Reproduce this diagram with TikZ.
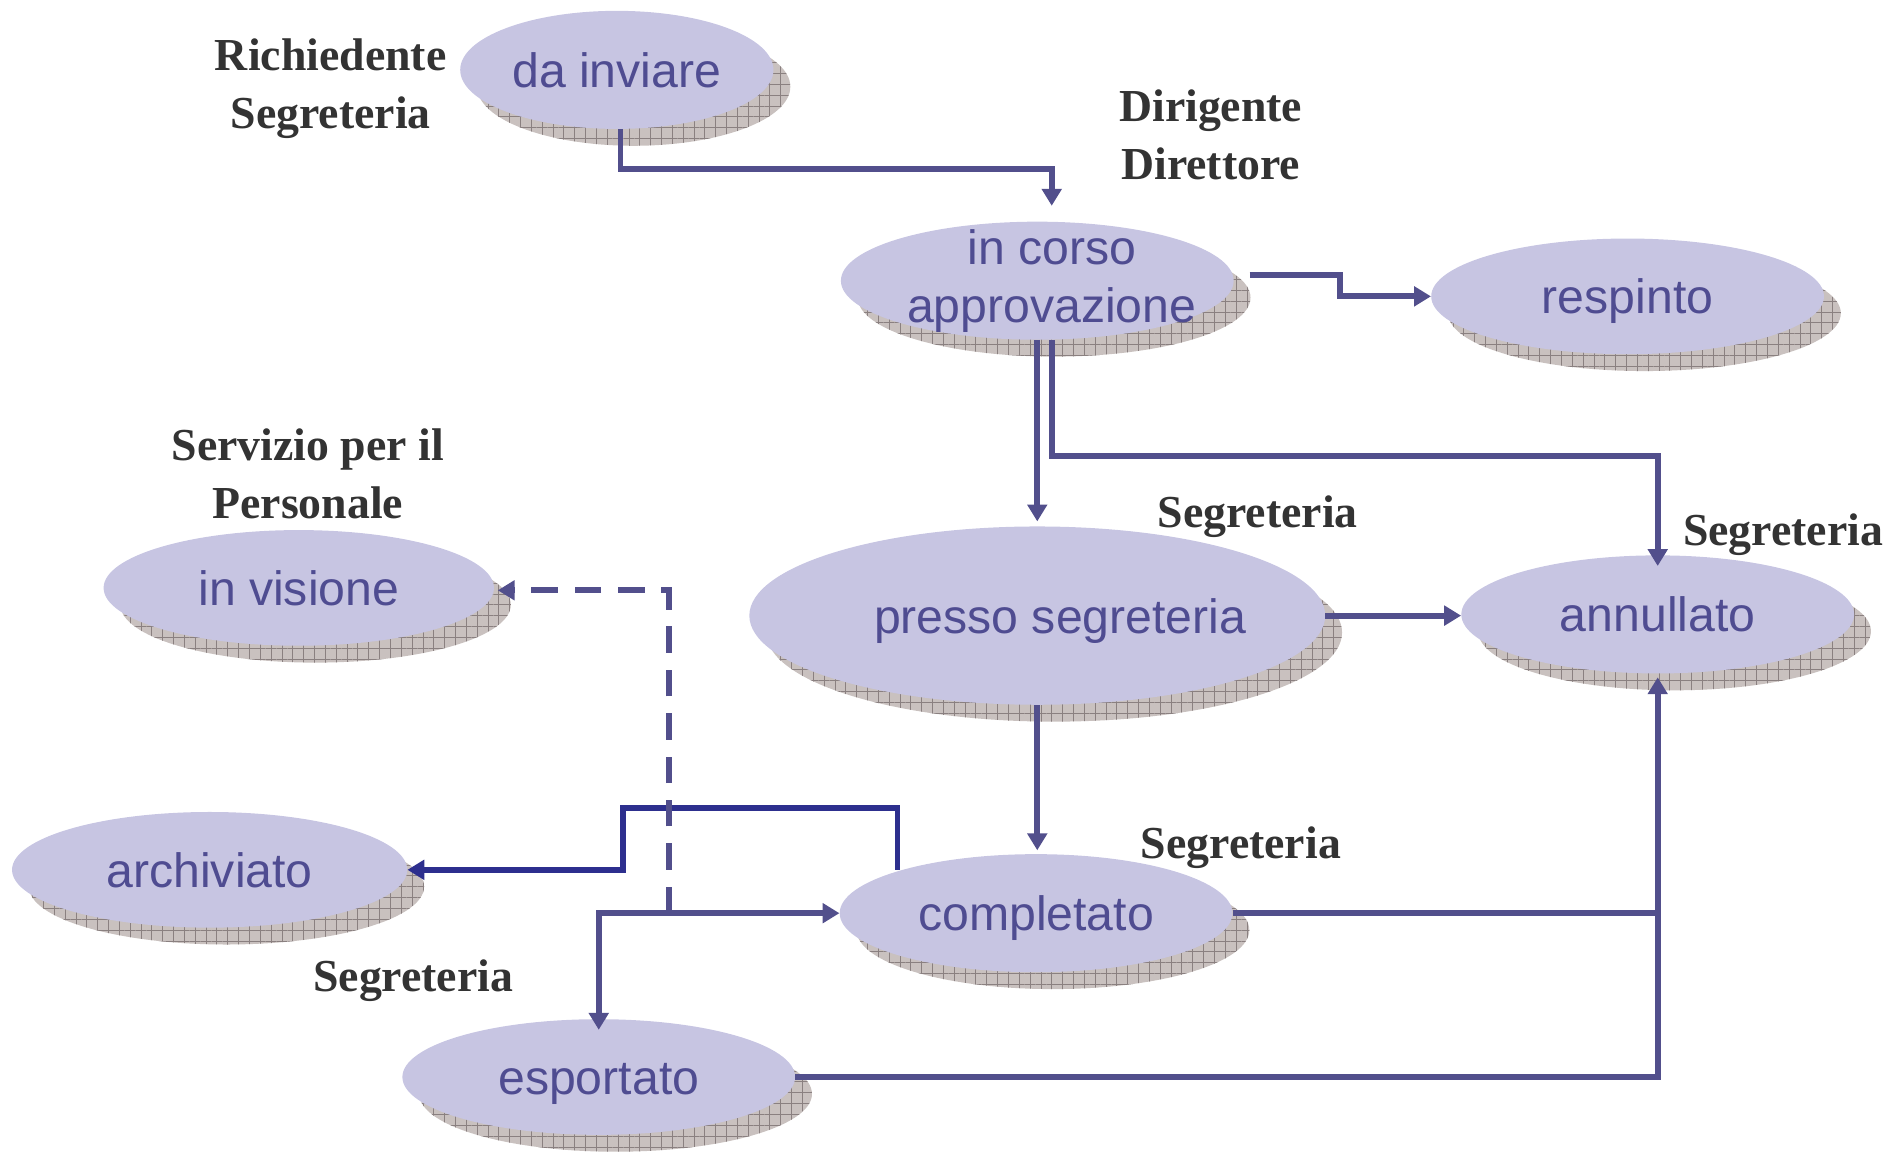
\documentclass[tikz,border=0pt]{standalone}
\usepackage{fontspec}
\setmainfont{Liberation Serif}
\newfontfamily\sansf{Liberation Sans}
\usetikzlibrary{shapes.geometric,arrows.meta,patterns.meta,backgrounds,calc}
\definecolor{elfill}{HTML}{C7C5E2}
\definecolor{eltext}{HTML}{4F4C91}
\definecolor{conncol}{HTML}{524F8C}
\definecolor{conndark}{HTML}{2D2F8E}
\definecolor{shcol}{HTML}{C9C1BF}
\definecolor{shline}{HTML}{8A8080}
\definecolor{labcol}{HTML}{333333}
\begin{document}
\begin{tikzpicture}[x=1pt,y=-1pt,
  stbase/.style={ellipse, fill=elfill, text=eltext, inner sep=-60pt,
    font=\sansf\fontsize{40}{48}\selectfont},
  st/.style={stbase, text height=29pt, text depth=0pt},
  shadowst/.style={preaction={fill=shcol},
    pattern={Lines[angle=0,distance=9pt,line width=0.6pt]}, pattern color=shline,
    postaction={pattern={Lines[angle=90,distance=9pt,line width=0.6pt]}, pattern color=shline}},
  conn/.style={draw=conncol, line width=4.8pt, -{Triangle[length=14pt,width=16pt]}},
  connboth/.style={draw=conncol, line width=4.8pt, {Triangle[length=14pt,width=16pt]}-{Triangle[length=14pt,width=16pt]}},
  connplain/.style={draw=conncol, line width=4.8pt},
  conndk/.style={draw=conndark, line width=4.8pt, -{Triangle[length=14pt,width=16pt]}},
  conndash/.style={draw=conncol, line width=4.8pt, dash pattern=on 22pt off 14pt, -{Triangle[length=14pt,width=16pt]}},
  lab/.style={text=labcol, font=\fontsize{38}{48}\selectfont\bfseries, align=center, anchor=base, inner sep=0pt}
]
\useasboundingbox (0,0) rectangle (1568,961);

% states
\node[st, minimum width=260pt, minimum height=98pt] (dainv) at (512,58) {da inviare};
\node[stbase, minimum width=326pt, minimum height=98pt, align=center] (corso) at (861,233)
  {\hspace*{24pt}in corso\\\hspace*{24pt}approvazione};
\node[st, minimum width=326pt, minimum height=96pt] (resp) at (1351,246) {respinto};
\node[st, minimum width=324pt, minimum height=96pt] (visione) at (248,488) {in visione};
\node[st, minimum width=478pt, minimum height=148pt] (presso) at (861,511) {\hspace*{38pt}presso segreteria};
\node[st, minimum width=326pt, minimum height=98pt] (annul) at (1376,510) {annullato};
\node[st, minimum width=328pt, minimum height=96pt] (arch) at (174,722) {archiviato};
\node[st, minimum width=326pt, minimum height=98pt] (compl) at (860,758) {completato};
\node[st, minimum width=326pt, minimum height=96pt] (espo) at (497,894) {esportato};

% shadows
\begin{scope}[on background layer]
\foreach \n/\rx/\ry in {dainv/130/49, corso/163/49, resp/163/48, visione/162/48,
    presso/239/74, annul/163/49, arch/164/48, compl/163/49, espo/163/48}
  \path[shadowst] ([shift={(14,14)}]\n.center) ellipse [x radius=\rx, y radius=\ry];
\end{scope}

% labels
\node[lab] (l1) at (274.5,106.8) {Richiedente\\Segreteria};
\node[lab] (l2) at (1005,149) {Dirigente\\Direttore};
\node[lab] (l3) at (255.5,430) {Servizio per il\\Personale};
\node[lab] (l4) at (1044,438) {Segreteria};
\node[lab] (l5) at (1480,453) {Segreteria};
\node[lab] (l6) at (1030,713) {Segreteria};
\node[lab] (l7) at (343,822.6) {Segreteria};

% connectors
\draw[conn] ([xshift=3pt]dainv.south) -- ++(0,33) -| ([shift={(12,-13)}]corso.north);
\draw[conn] ([shift={(13,-5)}]corso.east) -- ++(75,0) |- (resp.west);
\draw[conn] (corso.south) -- ([yshift=4pt]presso.north);
\draw[conn] ([xshift=12pt]corso.south) -- ++(0,96) -| ([yshift=-9pt]annul.north);
\draw[conn] (presso.east) -- (presso.east -| annul.west);
\draw[conn, shorten >=3pt] (presso.south) -- (presso.south |- compl.north);
\draw[conndk] ([shift={(-115,-36)}]compl.center) -- ++(0,-51) -| ([xshift=179pt]arch.east) -- (arch.east);
\draw[conn] (espo.east) -| ([yshift=-3pt]annul.south);
\draw[connplain] (compl.east) -- (compl.east -| annul.south);
\coordinate (J) at (espo.north |- compl.west);
\draw[connboth] ([yshift=-9pt]espo.north) |- (compl.west);
\draw[conndash] ([xshift=58pt]J) |- ([shift={(3,2)}]visione.east);
\end{tikzpicture}
\end{document}
